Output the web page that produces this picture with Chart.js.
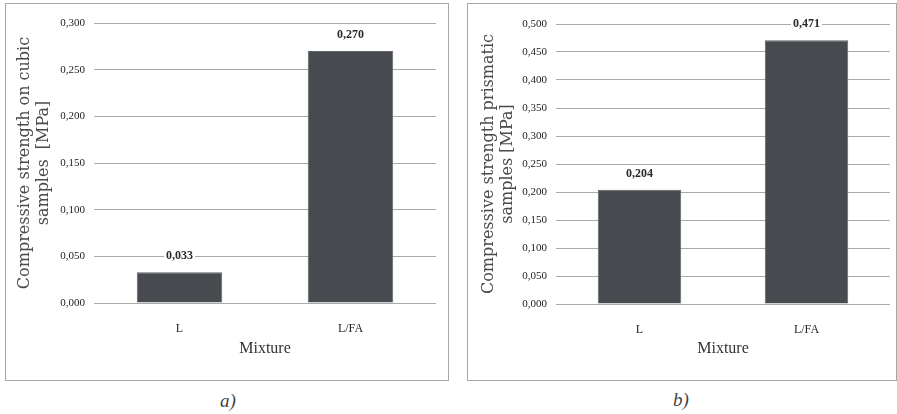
<!DOCTYPE html>
<html>
<head>
<meta charset="utf-8">
<script src="https://cdn.jsdelivr.net/npm/chart.js@4/dist/chart.umd.min.js"></script>
<style>
  html, body { margin: 0; padding: 0; background: #fff; }
  body { width: 897px; height: 414px; position: relative; overflow: hidden; }
  .panel { position: absolute; border: 1px solid #a8a8a8; }
  .panel canvas { display: block; }
  .caption {
    position: absolute; font-family: "Liberation Serif", serif; font-style: italic;
    font-size: 19px; color: #444; transform: translate(-50%, -50%);
  }
</style>
</head>
<body>
<div class="panel" style="left:5px; top:3px;"><canvas id="cubicChart" width="442" height="376"></canvas></div>
<div class="panel" style="left:467px; top:3px;"><canvas id="prismChart" width="428" height="376"></canvas></div>
<div class="caption" style="left:228px; top:401px;">a)</div>
<div class="caption" style="left:681px; top:400px;">b)</div>

<script>
/* data */
const mixtures = ['L', 'L/FA'];
const cubicStrength = [0.033, 0.270];
const prismaticStrength = [0.204, 0.471];
const cubicMax = 0.3;
const prismaticMax = 0.5;
const tickStep = 0.05;
const cubicTitle = ['Compressive strength on cubic', 'samples  [MPa]'];
const prismaticTitle = ['Compressive strength prismatic', 'samples [MPa]'];
const xTitle = 'Mixture';

const fmt = v => Number(v).toFixed(3).replace('.', ',');

/* ---------- value labels above bars ---------- */
const valueLabels = {
  id: 'valueLabels',
  afterDatasetsDraw(chart) {
    const { ctx } = chart;
    const meta = chart.getDatasetMeta(0);
    const values = chart.data.datasets[0].data;
    ctx.save();
    ctx.font = 'bold 12px "Liberation Serif"';
    ctx.textAlign = 'center';
    ctx.textBaseline = 'middle';
    meta.data.forEach((bar, i) => {
      const txt = fmt(values[i]);
      const y = bar.y - 16;
      const w = ctx.measureText(txt).width;
      ctx.fillStyle = '#fff';
      ctx.fillRect(bar.x - w / 2 - 2, y - 6, w + 4, 12);
      ctx.fillStyle = '#2a2a2a';
      ctx.fillText(txt, bar.x, y);
    });
    ctx.restore();
  }
};

function makeChart(id, values, max, yTitle, pad) {
  const ctx = document.getElementById(id);
  return new Chart(ctx, {
    type: 'bar',
    data: {
      labels: mixtures,
      datasets: [{
        data: values,
        backgroundColor: '#474b4f',
        borderColor: '#5f6367',
        borderWidth: 1,
        barPercentage: 0.5,
        categoryPercentage: 1
      }]
    },
    options: {
      responsive: false,
      animation: false,
      layout: { padding: { top: pad.top, right: pad.right, left: 0, bottom: 0 } },
      plugins: { legend: { display: false }, tooltip: { enabled: false } },
      scales: {
        x: {
          grid: { display: false },
          border: { display: false },
          ticks: { padding: 11, color: '#222', font: { family: 'Liberation Serif', size: 12 } },
          title: {
            display: true, text: xTitle, color: '#333',
            font: { family: 'Liberation Serif', size: 16 },
            padding: { top: 0, bottom: 22 }
          },
          afterFit: s => { s.height = pad.xHeight; }
        },
        y: {
          min: 0,
          max: max,
          ticks: {
            stepSize: tickStep,
            padding: 9,
            color: '#222',
            font: { family: 'Liberation Serif', size: 11 },
            callback: v => fmt(v)
          },
          grid: { color: '#a9a9a9', drawTicks: false, lineWidth: 1 },
          border: { display: false },
          title: {
            display: true, text: yTitle, color: '#4a4a4a',
            font: { family: 'DejaVu Serif', size: 16, lineHeight: 1.15 },
            padding: { top: pad.titleTop, bottom: 0 }
          },
          afterFit: s => { s.width = 88; }
        }
      }
    },
    plugins: [valueLabels]
  });
}

makeChart('cubicChart', cubicStrength, cubicMax, cubicTitle,
  { top: 19, right: 12, xHeight: 77, titleTop: 10 });
makeChart('prismChart', prismaticStrength, prismaticMax, prismaticTitle,
  { top: 20, right: 6, xHeight: 76, titleTop: 12 });
</script>
</body>
</html>
